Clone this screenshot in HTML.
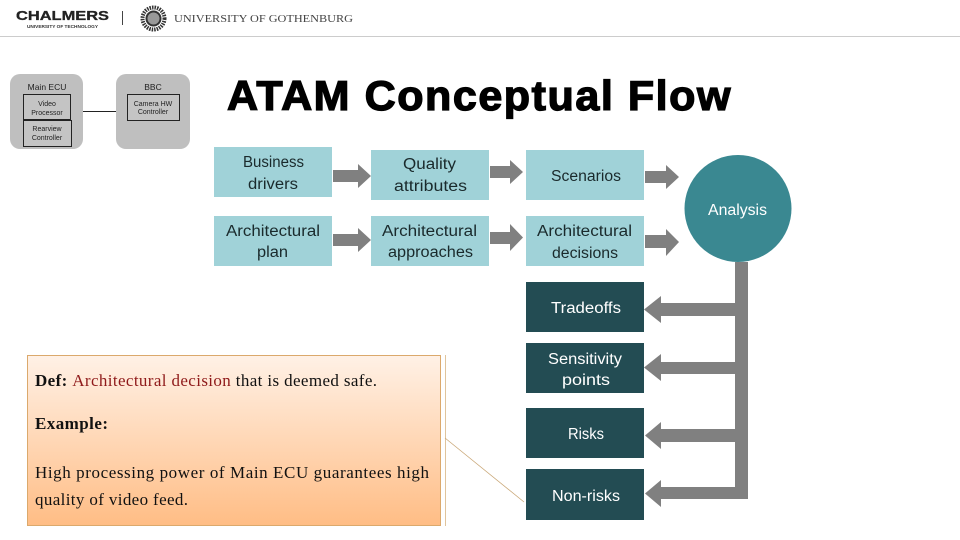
<!DOCTYPE html>
<html>
<head>
<meta charset="utf-8">
<style>
html,body{margin:0;padding:0;background:#fff;width:960px;height:540px;overflow:hidden}
svg{display:block}
.s{font-family:"Liberation Sans",sans-serif}
.l{font-size:15.500px;fill:#1a2a2c}
.w{font-size:15.500px;fill:#fff}
.t{font-family:"Liberation Serif",serif;font-size:17px;fill:#111}
.m{font-size:7px;fill:#222;text-anchor:middle}
</style>
</head>
<body>
<svg width="960" height="540" viewBox="0 0 960 540" xmlns="http://www.w3.org/2000/svg">
<defs>
<linearGradient id="g" x1="0" y1="0" x2="0" y2="1">
<stop offset="0" stop-color="#fff1e6"/>
<stop offset="1" stop-color="#ffbd85"/>
</linearGradient>
</defs>
<rect width="960" height="540" fill="#fff"/>

<!-- header -->
<text class="s" x="16" y="20" font-size="13" font-weight="700" fill="#222" stroke="#222" stroke-width=".3" textLength="93" lengthAdjust="spacingAndGlyphs">CHALMERS</text>
<text class="s" x="27" y="28" font-size="4.500" font-weight="700" fill="#333" textLength="71" lengthAdjust="spacingAndGlyphs">UNIVERSITY OF TECHNOLOGY</text>
<rect x="122" y="11" width="1" height="14" fill="#444"/>
<circle cx="153.500" cy="18.500" r="11" fill="none" stroke="#333" stroke-width="4" stroke-dasharray="1.500 1"/>
<circle cx="153.500" cy="18.500" r="7" fill="#999" stroke="#333" stroke-width="2"/>
<text x="174" y="22" font-family="Liberation Serif, serif" font-size="11" fill="#444" textLength="179" lengthAdjust="spacingAndGlyphs">UNIVERSITY OF GOTHENBURG</text>
<rect x="0" y="36" width="960" height="1" fill="#ccc"/>

<!-- mini diagram -->
<rect x="10" y="74" width="73" height="75" rx="10" fill="#bfbfbf"/>
<rect x="116" y="74" width="74" height="75" rx="10" fill="#bfbfbf"/>
<rect x="83" y="111" width="33" height="1" fill="#222"/>
<text class="s m" x="47" y="90" style="font-size:8.500px">Main ECU</text>
<text class="s m" x="153" y="90" style="font-size:8.500px">BBC</text>
<rect x="23.500" y="94.500" width="47" height="25" fill="#c4c4c4" stroke="#222"/>
<rect x="23.500" y="120.500" width="48" height="26" fill="#c4c4c4" stroke="#222"/>
<rect x="127.500" y="94.500" width="52" height="26" fill="#c4c4c4" stroke="#222"/>
<text class="s m" x="47" y="106">Video</text>
<text class="s m" x="47" y="115">Processor</text>
<text class="s m" x="47" y="131">Rearview</text>
<text class="s m" x="47" y="140">Controller</text>
<text class="s m" x="153" y="106">Camera HW</text>
<text class="s m" x="153" y="114">Controller</text>

<!-- title -->
<text class="s" x="227" y="110" font-size="42" font-weight="700" fill="#000" stroke="#000" stroke-width="1.300" letter-spacing="1.500" textLength="505" lengthAdjust="spacingAndGlyphs">ATAM Conceptual Flow</text>

<!-- boxes -->
<g fill="#a0d2d8">
<rect x="214" y="147" width="118" height="50"/>
<rect x="214" y="216" width="118" height="50"/>
<rect x="371" y="150" width="118" height="50"/>
<rect x="371" y="216" width="118" height="50"/>
<rect x="526" y="150" width="118" height="50"/>
<rect x="526" y="216" width="118" height="50"/>
</g>
<g fill="#234c53">
<rect x="526" y="282" width="118" height="50"/>
<rect x="526" y="343" width="118" height="50"/>
<rect x="526" y="408" width="118" height="50"/>
<rect x="526" y="469" width="118" height="51"/>
</g>
<circle cx="738" cy="208.500" r="53.500" fill="#3a8891"/>

<!-- arrows -->
<g fill="#808080">
<polygon points="333,170 358,170 358,164 371,176 358,188 358,182 333,182"/>
<polygon points="333,234 358,234 358,228 371,240 358,252 358,246 333,246"/>
<polygon points="490,166 510,166 510,160 523,172 510,184 510,178 490,178"/>
<polygon points="490,232 510,232 510,224 523,237.500 510,251 510,244 490,244"/>
<polygon points="645,171 666,171 666,165 679,177 666,189 666,183 645,183"/>
<polygon points="645,235 666,235 666,229 679,242 666,256 666,248 645,248"/>
<rect x="735" y="262" width="13" height="237"/>
<polygon points="736,303 661,303 661,296 644,309.500 661,323 661,316 736,316"/>
<polygon points="736,362 661,362 661,354 644,367.500 661,381 661,374 736,374"/>
<polygon points="736,429 661,429 661,422 645,435.500 661,449 661,442 736,442"/>
<polygon points="736,487 661,487 661,480 645,493.500 661,507 661,499 736,499"/>
</g>

<!-- box labels -->
<g class="s">
<text class="l" x="243" y="167" textLength="61" lengthAdjust="spacingAndGlyphs">Business</text>
<text class="l" x="248" y="189" textLength="50" lengthAdjust="spacingAndGlyphs">drivers</text>
<text class="l" x="403" y="169" textLength="53" lengthAdjust="spacingAndGlyphs">Quality</text>
<text class="l" x="394" y="191" textLength="73" lengthAdjust="spacingAndGlyphs">attributes</text>
<text class="l" x="551" y="181" textLength="70" lengthAdjust="spacingAndGlyphs">Scenarios</text>
<text class="l" x="226" y="236" textLength="94" lengthAdjust="spacingAndGlyphs">Architectural</text>
<text class="l" x="257" y="257" textLength="31" lengthAdjust="spacingAndGlyphs">plan</text>
<text class="l" x="382" y="236" textLength="95" lengthAdjust="spacingAndGlyphs">Architectural</text>
<text class="l" x="388" y="257" textLength="85" lengthAdjust="spacingAndGlyphs">approaches</text>
<text class="l" x="537" y="236" textLength="95" lengthAdjust="spacingAndGlyphs">Architectural</text>
<text class="l" x="552" y="258" textLength="66" lengthAdjust="spacingAndGlyphs">decisions</text>
<text class="w" x="708" y="215" textLength="59" lengthAdjust="spacingAndGlyphs">Analysis</text>
<text class="w" x="551" y="313" textLength="70" lengthAdjust="spacingAndGlyphs">Tradeoffs</text>
<text class="w" x="548" y="364" textLength="74" lengthAdjust="spacingAndGlyphs">Sensitivity</text>
<text class="w" x="562" y="385" textLength="48" lengthAdjust="spacingAndGlyphs">points</text>
<text class="w" x="568" y="439" textLength="36" lengthAdjust="spacingAndGlyphs">Risks</text>
<text class="w" x="552" y="501" textLength="68" lengthAdjust="spacingAndGlyphs">Non-risks</text>
</g>

<!-- callout -->
<rect x="27.500" y="355.500" width="413" height="170" fill="url(#g)" stroke="#dba96c"/>
<rect x="445" y="355" width="1" height="171" fill="#e0c49c"/>
<line x1="445" y1="438" x2="524" y2="502" stroke="#c9a777" stroke-width=".8"/>
<text class="t" x="35" y="386" textLength="342" lengthAdjust="spacing"><tspan font-weight="700">Def: </tspan><tspan fill="#8f1a1a">Architectural decision</tspan> that is deemed safe.</text>
<text class="t" x="35" y="429" font-weight="700" textLength="73" lengthAdjust="spacing">Example:</text>
<text class="t" x="35" y="478" textLength="394" lengthAdjust="spacing">High processing power of Main ECU guarantees high</text>
<text class="t" x="35" y="505" textLength="153" lengthAdjust="spacing">quality of video feed.</text>
</svg>
</body>
</html>
